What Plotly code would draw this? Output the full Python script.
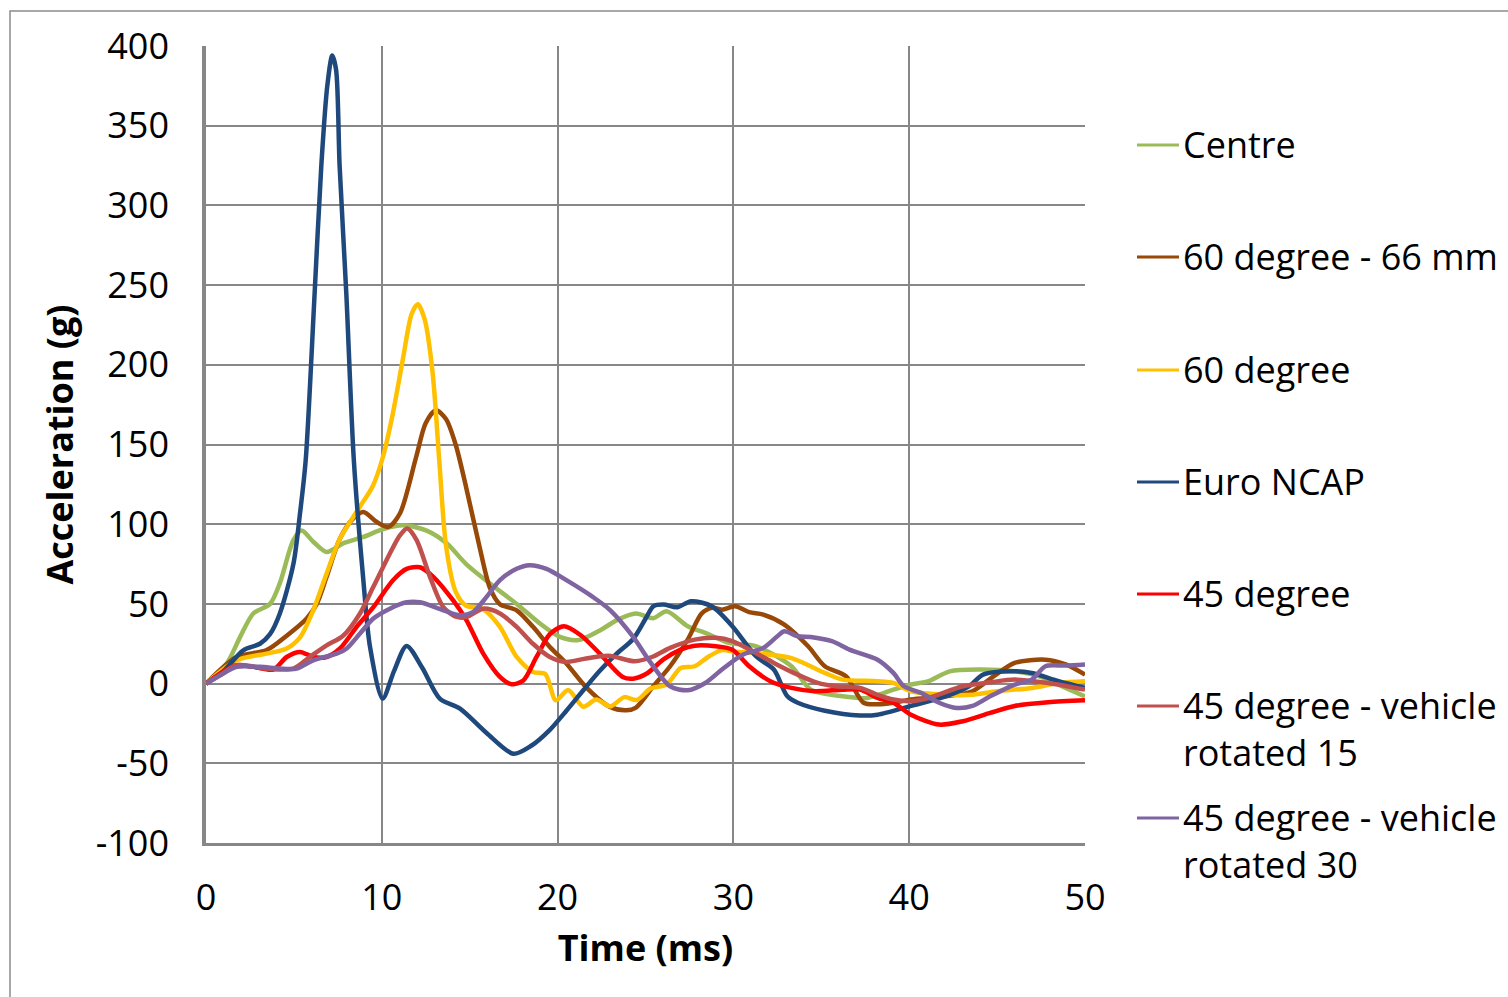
import plotly.graph_objects as go

# ---------------- data ----------------
series_names = ["Centre", "60 degree - 66 mm", "60 degree", "Euro NCAP", "45 degree",
                "45 degree - vehicle<br>rotated 15", "45 degree - vehicle<br>rotated 30"]
series_colors = ["#9BBB59", "#984807", "#FFC000", "#1F497D", "#FF0000", "#C0504D", "#8064A2"]

centre_t = [0, 1.18, 1.93, 2.69, 3.64, 4.2, 4.97, 5.44, 6.1, 6.86, 7.8, 8.95, 10.08, 11.2, 12.55,
            13.69, 14.8, 16.15, 17.67, 19.0, 20.13, 21.2, 22.5, 23.4, 24.46, 25.44, 26.2, 27.4,
            28.4, 29.75, 31.3, 33.3, 34.4, 36.2, 37.6, 39.1, 40.1, 41.1, 42.3, 44.0, 46.0, 47.4,
            48.9, 50]
centre_g = [0, 12.6, 29, 44, 50, 63, 90, 96, 89, 82.6, 88, 92, 97, 99.4, 96, 88, 75, 62.8, 50,
            37.7, 29.3, 27.4, 34, 40, 44, 41, 45.4, 36, 31.8, 25.5, 23.4, 10.9, -3.8, -8, -9,
            -3.8, -0.6, 1.5, 7.7, 8.8, 7.7, 4.6, -2.7, -8]

deg60_66_t = [0, 1.74, 3.45, 4.59, 5.73, 6.3, 6.86, 7.62, 8.38, 8.95, 9.7, 10.37, 11.03, 11.95,
              12.5, 13.08, 13.65, 14.2, 14.78, 15.54, 16.15, 16.7, 17.67, 18.6, 19.56, 20.5, 21.6,
              22.98, 23.9, 24.46, 25.44, 26.4, 27.4, 28.2, 28.8, 29.35, 30.1, 30.9, 31.7, 32.9,
              34.25, 35.2, 36.4, 37.4, 38.2, 39.1, 40.1, 42.07, 43.6, 44.8, 46.0, 47.75, 48.9, 50]
deg60_66_g = [0, 16.7, 21, 30, 40.8, 50, 67, 91, 103.6, 107.7, 101.5, 98.3, 106.7, 142, 163.5,
              171.5, 166, 150, 124, 86.8, 60, 50, 46, 35.6, 23, 12.6, -2, -14.6, -16.7, -15, -1.7,
              10.9, 27.6, 44, 47.5, 46.4, 48.5, 44.8, 43.3, 37, 23.4, 10.9, 4.6, -12, -13, -12,
              -10, -8, -4.8, 4.6, 13, 15, 12, 5.6]

deg60_t = [0, 1.74, 3.45, 4.59, 5.35, 6.1, 6.86, 7.62, 8.38, 8.73, 9.49, 10.06, 10.62, 11.19,
           11.7, 12.05, 12.45, 12.89, 13.27, 13.65, 14.2, 14.78, 15.73, 16.72, 17.67, 18.6, 19.3,
           19.9, 20.6, 21.46, 22.2, 23.0, 23.8, 24.5, 25.3, 26.2, 27.0, 27.8, 28.6, 29.35, 30.1,
           31.3, 33.3, 35.2, 36.2, 38.2, 39.1, 40.1, 42.07, 43.6, 45.0, 47.0, 48.5, 50]
deg60_g = [0, 14.6, 18.8, 22, 29, 46, 69, 91, 104.6, 110.6, 124, 142, 169, 203, 232, 238, 228,
           195, 139.7, 86.8, 57.7, 49, 47, 35.6, 16.7, 7.3, 6, -10.5, -4, -14.5, -10, -14.3, -8.5,
           -10.3, -3, -0.6, 9.8, 10.9, 17, 21, 20, 19, 16, 6.7, 2.5, 1.5, 0.4, -4.8, -7, -7, -4.8,
           -2.7, 0.4, 1.5]

ncap_t = [0, 1.0, 2.12, 3.07, 3.64, 4.2, 4.97, 5.35, 5.67, 6.18, 6.56, 6.9, 7.18, 7.4, 7.6, 7.98,
          8.41, 8.95, 9.33, 10.05, 10.7, 11.41, 12.3, 13.3, 14.45, 15.96, 17.48, 18.5, 19.56, 20.5,
          21.46, 22.4, 23.36, 24.3, 25.06, 25.44, 26.03, 26.8, 27.6, 28.77, 29.94, 31.3, 32.3,
          33.07, 33.66, 35.2, 37.2, 38.2, 40.1, 42.07, 43.4, 44.2, 46.0, 46.97, 48.5, 50]
ncap_g = [0, 8, 20.9, 25, 31, 44, 75, 107, 140, 245, 325, 375, 394, 385, 325, 245, 140, 65, 23,
          -9.4, 8, 23.6, 10, -9.4, -15.7, -31, -44, -39, -29, -17, -4.2, 8, 18.8, 28, 41.8, 48.5,
          49.6, 47.9, 51.7, 48.5, 36, 17, 8.8, -8, -12, -17, -20, -19.5, -14, -8, -1.7, 5.6, 7.7,
          6.7, 1.5, -2.7]

deg45_t = [0, 0.8, 1.74, 2.69, 3.83, 4.59, 5.35, 6.1, 6.86, 7.62, 8.57, 9.52, 10.65, 11.41, 12.17,
           12.93, 14.07, 14.82, 15.77, 16.72, 17.38, 18.05, 18.8, 19.56, 20.35, 21.3, 22.4, 23.7,
           24.3, 25.1, 26.0, 27.0, 27.8, 29.0, 29.94, 30.9, 32.1, 33.3, 34.6, 36.2, 37.2, 38.2,
           39.1, 40.1, 41.7, 43.05, 44.6, 46.0, 47.9, 50]
deg45_g = [0, 6.3, 11.5, 10.5, 8.8, 16.7, 19.9, 16.7, 16.7, 22, 35.6, 48, 65, 72, 73, 67, 52,
           39.7, 18.8, 4.2, -0.4, 2, 16.7, 31, 36, 30.5, 18.8, 4.2, 3.1, 6.5, 15, 21.3, 23.8, 23.4,
           21.3, 10.9, 1.5, -2.7, -4.8, -3.8, -3.8, -9, -12, -19.5, -25.7, -23.6, -18.4, -14,
           -11.7, -10.5]

rot15_t = [0, 0.8, 1.74, 3.45, 4.97, 5.9, 6.86, 7.8, 8.76, 9.52, 10.46, 11.03, 11.45, 11.98,
           12.74, 13.5, 14.26, 14.82, 15.77, 16.72, 17.67, 18.6, 19.56, 20.5, 21.5, 22.9, 24.4,
           25.44, 26.4, 27.8, 29.0, 29.94, 31.3, 32.3, 33.66, 34.8, 35.8, 37.2, 38.2, 39.1, 40.1,
           41.1, 43.05, 44.6, 46.0, 47.9, 50]
rot15_g = [0, 5.2, 11.5, 9.4, 9.4, 16.7, 24, 30, 44, 60.7, 81.6, 93, 97.3, 90, 67, 48, 41.8, 41.8,
           47, 44, 35.6, 25, 16.7, 13.6, 15.5, 17.5, 14, 17, 22.4, 27.6, 28.7, 26.6, 19, 13, 5.6,
           0.4, -1.7, -2.7, -7, -10, -11, -9, -1.7, 0.8, 2.5, 0.4, -3.8]

rot30_t = [0, 0.8, 1.74, 3.07, 4.2, 5.16, 6.1, 7.43, 8.0, 8.76, 9.52, 10.46, 11.41, 12.17, 13.5,
           14.45, 15.2, 15.96, 16.72, 17.67, 18.4, 19.37, 20.5, 22.0, 23.0, 24.3, 25.2, 26.4, 27.4,
           28.4, 29.35, 30.5, 31.7, 32.5, 32.9, 33.66, 34.4, 35.6, 36.6, 38.2, 39.1, 39.7, 40.7,
           41.7, 42.7, 43.6, 44.6, 46.0, 46.97, 47.75, 48.9, 50]
rot30_g = [0, 5.2, 10.5, 10.5, 9.4, 9.4, 14.6, 18.8, 22, 31.4, 40.8, 47, 51, 51, 46, 42.9, 45,
           54.4, 64.9, 72, 74.3, 72, 64.9, 54.4, 46, 29.3, 14.6, -1.7, -4.2, 0.4, 8.8, 18, 22.4,
           29.7, 32.8, 29.7, 29.3, 26.6, 21.3, 15, 6.7, -1.7, -5.9, -12, -15.3, -14, -8, -0.6,
           2.5, 10.9, 11.3, 12]

series_t = [centre_t, deg60_66_t, deg60_t, ncap_t, deg45_t, rot15_t, rot30_t]
series_g = [centre_g, deg60_66_g, deg60_g, ncap_g, deg45_g, rot15_g, rot30_g]

x_ticks = [0, 10, 20, 30, 40, 50]
y_ticks = [-100, -50, 0, 50, 100, 150, 200, 250, 300, 350, 400]
y_tick_labels = ["-100", "-50", "0", "50", "100", "150", "200", "250", "300", "350", "400"]

# ---------------- figure ----------------
W, H = 1508, 997
ML, MR, MT, MB = 206, 423, 46, 154
PW, PH = W - ML - MR, H - MT - MB
FONT = "Open Sans"
GRID = "#878787"

fig = go.Figure()
for name, col, t, g in zip(series_names, series_colors, series_t, series_g):
    fig.add_trace(go.Scatter(x=t, y=g, mode="lines", name=name.replace("<br>", " "),
                             line=dict(color=col, width=4.5, shape="spline", smoothing=0.8),
                             showlegend=False, hoverinfo="skip"))

def px_x(px):
    return (px - ML) / PW

def px_y(py):
    return (H - MB - py) / PH

shapes = []
annotations = []
# legend drawn beside the plot
legend_rows = [145, 257, 370, 482, 594, 706, 818]
for name, col, row in zip(series_names, series_colors, legend_rows):
    shapes.append(dict(type="line", xref="paper", yref="paper",
                       x0=px_x(1137), x1=px_x(1179), y0=px_y(row), y1=px_y(row),
                       line=dict(color=col, width=3)))
    annotations.append(dict(xref="paper", yref="paper", x=px_x(1181), y=px_y(row - 27),
                            xanchor="left", yanchor="top", align="left", showarrow=False,
                            text=name, font=dict(family=FONT, size=36, color="black")))

# outer chart border
shapes.append(dict(type="rect", xref="paper", yref="paper", layer="below",
                   x0=px_x(10), x1=px_x(1530), y0=px_y(1020), y1=px_y(11),
                   line=dict(color="#8C8C8C", width=1.5)))

fig.update_layout(
    width=W, height=H,
    margin=dict(l=ML, r=MR, t=MT, b=MB, pad=0),
    paper_bgcolor="white", plot_bgcolor="white",
    font=dict(family=FONT, size=36, color="black"),
    shapes=shapes, annotations=annotations,
    xaxis=dict(range=[0, 50], tickvals=x_ticks, showgrid=True, gridcolor=GRID, gridwidth=1.5,
               zeroline=False, showline=True, linecolor=GRID, linewidth=2.5,
               ticks="", ticklabelstandoff=21,
               tickfont=dict(family=FONT, size=36, color="black"),
               title=dict(text="<b>Time (ms)</b>", standoff=16,
                          font=dict(family=FONT, size=36, color="black"))),
    yaxis=dict(range=[-100, 400], tickvals=y_ticks, ticktext=y_tick_labels,
               showgrid=True, gridcolor=GRID, gridwidth=1.5,
               zeroline=False, showline=True, linecolor=GRID, linewidth=3.5,
               ticks="", ticklabelstandoff=26,
               tickfont=dict(family=FONT, size=36, color="black"),
               title=dict(text="<b>Acceleration (g)</b>", standoff=12,
                          font=dict(family=FONT, size=36, color="black"))),
)

fig.write_html("out.html")
